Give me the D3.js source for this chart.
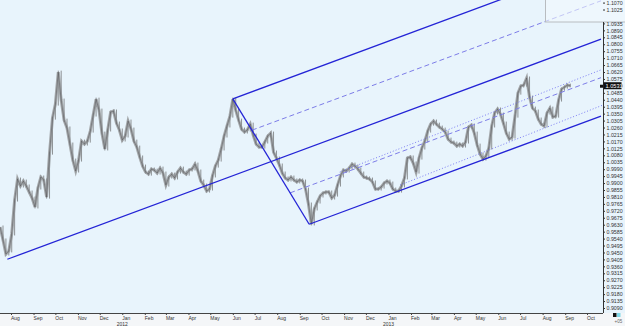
<!DOCTYPE html>
<html>
<head>
<meta charset="utf-8">
<script src="https://cdn.jsdelivr.net/npm/d3@7"></script>
<style>
  body { margin: 0; background: #f4f6f8; }
  svg { display: block; font-family: "Liberation Sans", Arial, sans-serif; }
</style>
</head>
<body>
<div class="svg-div"></div>
<script>
// closes every 4 days starting 2011-07-17
const startDate = "2011-07-17";
const stepDays = 4;
const closes = [
  0.9615, 0.9531, 0.9440, 0.9460, 0.9570, 0.9790, 0.9926, 0.9881, 0.9913, 0.9881,
  0.9842, 0.9803, 0.9745, 0.9868, 0.9939, 0.9920, 0.9809, 1.0094, 1.0321, 1.0412,
  1.0619, 1.0438, 1.0308, 1.0257, 1.0153, 1.0049, 0.9978, 1.0049, 1.0172, 1.0153,
  1.0172, 1.0237, 1.0341, 1.0444, 1.0373, 1.0224, 1.0121, 1.0244, 1.0360, 1.0367,
  1.0289, 1.0244, 1.0179, 1.0205, 1.0302, 1.0250, 1.0172, 1.0133, 1.0069, 1.0010,
  0.9971, 0.9958, 0.9991, 0.9984, 0.9965, 0.9997, 0.9965, 0.9887, 0.9939, 0.9958,
  0.9933, 0.9971, 0.9997, 0.9971, 0.9958, 0.9984, 0.9991, 1.0023, 0.9978, 0.9913,
  0.9887, 0.9848, 0.9861, 0.9946, 1.0010, 1.0049, 1.0121, 1.0205, 1.0270, 1.0334,
  1.0444, 1.0373, 1.0308, 1.0250, 1.0231, 1.0244, 1.0282, 1.0211, 1.0153, 1.0133,
  1.0133, 1.0166, 1.0205, 1.0224, 1.0101, 1.0062, 1.0017, 0.9965, 0.9933, 0.9920,
  0.9939, 0.9920, 0.9907, 0.9920, 0.9913, 0.9861, 0.9764, 0.9635, 0.9732, 0.9777,
  0.9816, 0.9835, 0.9842, 0.9842, 0.9803, 0.9822, 0.9887, 0.9946, 0.9984, 0.9978,
  0.9997, 1.0023, 1.0010, 0.9991, 0.9965, 0.9939, 0.9933, 0.9926, 0.9907, 0.9861,
  0.9861, 0.9874, 0.9900, 0.9913, 0.9900, 0.9861, 0.9848, 0.9848, 0.9881, 0.9933,
  1.0062, 1.0069, 1.0030, 0.9971, 1.0062, 1.0127, 1.0172, 1.0237, 1.0282, 1.0302,
  1.0282, 1.0263, 1.0250, 1.0231, 1.0185, 1.0166, 1.0159, 1.0140, 1.0153, 1.0140,
  1.0166, 1.0263, 1.0276, 1.0224, 1.0146, 1.0088, 1.0056, 1.0075, 1.0127, 1.0270,
  1.0354, 1.0380, 1.0347, 1.0289, 1.0224, 1.0185, 1.0198, 1.0334, 1.0483, 1.0529,
  1.0535, 1.0581, 1.0457, 1.0386, 1.0367, 1.0315, 1.0282, 1.0270, 1.0354, 1.0386,
  1.0328, 1.0334, 1.0438, 1.0509, 1.0522, 1.0535, 1.0531
];
const lastPrice = 1.0531;

// pitchfork pivots
const pfDates = ["2011-07-27", "2012-06-01", "2012-09-14"];
const pfPrices = [0.9406, 1.0446, 0.9633];

// trend channel (dotted)
const chanUpDates = ["2012-10-26", "2013-10-23"];
const chanUpPrices = [0.9971, 1.0639];
const chanLoDates = ["2013-01-17", "2013-10-23"];
const chanLoPrices = [0.9887, 1.0406];

const monthLabels = ["Aug","Sep","Oct","Nov","Dec","Jan","Feb","Mar","Apr","May","Jun","Jul",
  "Aug","Sep","Oct","Nov","Dec","Jan","Feb","Mar","Apr","May","Jun","Jul","Aug","Sep","Oct"];
const yearLabels = { "Jan 2012": "2012", "Jan 2013": "2013" };
const priceTicks = [0.9090, 0.9135, 0.9180, 0.9225, 0.9270, 0.9315, 0.9360, 0.9405, 0.9450,
  0.9495, 0.9540, 0.9585, 0.9630, 0.9675, 0.9720, 0.9765, 0.9810, 0.9855, 0.9900, 0.9945,
  0.9990, 1.0035, 1.0080, 1.0125, 1.0170, 1.0215, 1.0260, 1.0305, 1.0350, 1.0395, 1.0440,
  1.0485, 1.0530, 1.0575, 1.0620, 1.0665, 1.0710, 1.0755, 1.0800, 1.0845, 1.0890, 1.0935];
const insetTicks = [1.1025, 1.1070];

const svgWidth = 625, svgHeight = 326;
const plotRight = 603, plotBottom = 313;
const parse = d3.timeParse("%Y-%m-%d");

let svg = d3.select(".svg-div").append("svg")
  .attr("width", svgWidth)
  .attr("height", svgHeight);

let x = d3.scaleTime()
  .domain([new Date(2011, 7, 1), new Date(2013, 9, 1)])
  .range([11, 587]);
let y = d3.scaleLinear()
  .domain([0.9090, 1.0620])
  .range([308, 72]);

// backgrounds
svg.append("rect").attr("width", svgWidth).attr("height", svgHeight).attr("fill", "#f4f6f8");
svg.append("rect").attr("width", svgWidth).attr("height", plotBottom).attr("fill", "#e8f4fc");

svg.append("clipPath").attr("id", "plot")
  .append("rect").attr("width", plotRight - 1).attr("height", plotBottom);

let g = svg.append("g").attr("clip-path", "url(#plot)");

// price series
let start = parse(startDate);
let prices = closes.map((c, i) => ({ date: d3.timeDay.offset(start, i * stepDays), close: c }));
let line = d3.line().x(d => x(d.date)).y(d => y(d.close));

g.append("path").datum(prices)
  .attr("fill", "none").attr("stroke", "#a4a8ab").attr("stroke-width", 3)
  .attr("stroke-linejoin", "miter").attr("d", line);
// bar texture: range between neighbouring closes
g.selectAll(".bar").data(prices.slice(1)).enter().append("line")
  .attr("class", "bar")
  .attr("x1", d => x(d.date)).attr("x2", d => x(d.date))
  .attr("y1", (d, i) => Math.min(y(d.close), y(prices[i].close)) - 1.5)
  .attr("y2", (d, i) => Math.max(y(d.close), y(prices[i].close)) + 1.5)
  .attr("stroke", "#8d9194").attr("stroke-width", 1);
g.append("path").datum(prices)
  .attr("fill", "none").attr("stroke", "#4d4f52").attr("stroke-width", 0.6)
  .attr("stroke-opacity", 0.8).attr("d", line);

// pitchfork
let P = pfDates.map((d, i) => ({ t: +parse(d), p: pfPrices[i] }));
let mid = { t: (P[1].t + P[2].t) / 2, p: (P[1].p + P[2].p) / 2 };
let slope = (mid.p - P[0].p) / (mid.t - P[0].t);
let tEnd = +x.invert(601);
function ray(from) {
  return [[from.t, from.p], [tEnd, from.p + slope * (tEnd - from.t)]];
}
function lerp(a, b, k) { return { t: a.t + (b.t - a.t) * k, p: a.p + (b.p - a.p) * k }; }
let seg = d3.line().x(d => x(d[0])).y(d => y(d[1]));

let solid = [ray(P[0]), ray(P[1]), ray(P[2]), [[P[1].t, P[1].p], [P[2].t, P[2].p]]];
let dashed = [ray(lerp(P[1], P[2], 0.25)), ray(lerp(P[1], P[2], 0.75))];
let dotted = [
  chanUpDates.map((d, i) => [+parse(d), chanUpPrices[i]]),
  chanLoDates.map((d, i) => [+parse(d), chanLoPrices[i]])
];

g.selectAll(".dotted").data(dotted).enter().append("path")
  .attr("fill", "none").attr("stroke", "#6f6ff0").attr("stroke-width", 0.9)
  .attr("stroke-dasharray", "1,2").attr("d", seg);
g.selectAll(".dashed").data(dashed).enter().append("path")
  .attr("fill", "none").attr("stroke", "#7d7de8").attr("stroke-width", 1)
  .attr("stroke-dasharray", "5,3").attr("d", seg);
g.selectAll(".solid").data(solid).enter().append("path")
  .attr("fill", "none").attr("stroke", "#2424d6").attr("stroke-width", 1.3)
  .attr("d", seg);

// inset box top right
svg.append("rect").attr("x", 545.5).attr("y", -1).attr("width", 81).attr("height", 23)
  .attr("fill", "#f2f9fe").attr("fill-opacity", 0.6).attr("stroke", "#b8bcc0").attr("stroke-width", 1);

// right axis
let yAxis = svg.append("g")
  .attr("transform", "translate(" + plotRight + ",0)")
  .call(d3.axisRight(y).tickValues(priceTicks.concat(insetTicks)).tickSize(2).tickSizeOuter(0)
    .tickFormat(d3.format(".4f")));
yAxis.select(".domain").attr("d", "M0.5,22V" + plotBottom).attr("stroke", "#333");
yAxis.selectAll("line").attr("stroke", "#333");
yAxis.selectAll("text").attr("x", 3.5).attr("font-size", 5.3).attr("fill", "#333");

// current price marker
svg.append("rect").attr("x", 600).attr("y", y(lastPrice) - 1).attr("width", 3).attr("height", 3).attr("fill", "#111");
svg.append("rect").attr("x", 603.5).attr("y", y(lastPrice) - 3.5).attr("width", 18).attr("height", 7).attr("fill", "#111");
svg.append("text").attr("x", 605.5).attr("y", y(lastPrice) + 2).attr("font-size", 5.6)
  .attr("fill", "#fff").text(d3.format(".4f")(lastPrice));

// bottom axis
let months = d3.timeMonth.range(new Date(2011, 7, 1), new Date(2013, 10, 1));
let xAxis = svg.append("g")
  .attr("transform", "translate(0," + plotBottom + ")")
  .call(d3.axisBottom(x).tickValues(months).tickSize(2).tickSizeOuter(0)
    .tickFormat((d, i) => monthLabels[i]));
xAxis.select(".domain").attr("d", "M0,0.5H" + plotRight).attr("stroke", "#444");
xAxis.selectAll("line").attr("stroke", "#444");
xAxis.selectAll("text").attr("text-anchor", "start").attr("x", -0.5).attr("y", 3)
  .attr("font-size", 5).attr("fill", "#333");
xAxis.selectAll(".tick").filter(d => yearLabels[d3.timeFormat("%b %Y")(d)])
  .append("text").attr("x", -0.5).attr("y", 9).attr("dy", "0.71em")
  .attr("font-size", 5).attr("fill", "#333")
  .text(d => yearLabels[d3.timeFormat("%b %Y")(d)]);

// corner swatches
svg.append("rect").attr("x", 613).attr("y", 313).attr("width", 3.5).attr("height", 4).attr("fill", "#111");
svg.append("rect").attr("x", 617).attr("y", 313).attr("width", 3.5).attr("height", 4).attr("fill", "#7fd8e8");
svg.append("text").attr("x", 614.5).attr("y", 323).attr("font-size", 4.5).attr("fill", "#666").text("+05");
</script>
</body>
</html>
